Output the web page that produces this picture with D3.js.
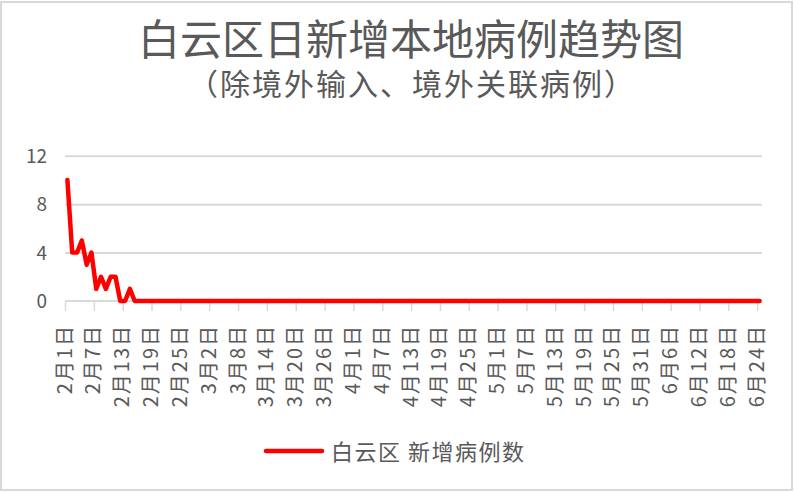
<!DOCTYPE html>
<html>
<head>
<meta charset="utf-8">
<script src="https://cdn.jsdelivr.net/npm/d3@7"></script>
<style>
  html, body { margin: 0; padding: 0; background: #fff; }
  svg { display: block; }
  text { font-family: "Noto Sans CJK SC", "Noto Sans", sans-serif; fill: #595959; }
</style>
</head>
<body>
<svg id="chart" width="794" height="492"></svg>
<script>
// ---- data ----
const title = "白云区日新增本地病例趋势图";
const subtitle = "（除境外输入、境外关联病例）";
const seriesName = "白云区 新增病例数";

// daily categories, 2020-02-01 .. 2020-06-24
const categories = d3.timeDay.range(new Date(2020, 1, 1), new Date(2020, 5, 25))
  .map(d => `${d.getMonth() + 1}月${d.getDate()}日`);

const tickLabels = [
  "2月1日", "2月7日", "2月13日", "2月19日", "2月25日",
  "3月2日", "3月8日", "3月14日", "3月20日", "3月26日",
  "4月1日", "4月7日", "4月13日", "4月19日", "4月25日",
  "5月1日", "5月7日", "5月13日", "5月19日", "5月25日",
  "5月31日", "6月6日", "6月12日", "6月18日", "6月24日"
];

const yTicks = [0, 4, 8, 12];

const values = [
  // Feb 1–15
  10, 4, 4, 5, 3, 4, 1, 2, 1, 2, 2, 0, 0, 1, 0,
  // Feb 16–29
  0, 0, 0, 0, 0, 0, 0, 0, 0, 0, 0, 0, 0, 0,
  // Mar 1–31
  0, 0, 0, 0, 0, 0, 0, 0, 0, 0, 0, 0, 0, 0, 0, 0, 0, 0, 0, 0, 0, 0, 0, 0, 0, 0, 0, 0, 0, 0, 0,
  // Apr 1–30
  0, 0, 0, 0, 0, 0, 0, 0, 0, 0, 0, 0, 0, 0, 0, 0, 0, 0, 0, 0, 0, 0, 0, 0, 0, 0, 0, 0, 0, 0,
  // May 1–31
  0, 0, 0, 0, 0, 0, 0, 0, 0, 0, 0, 0, 0, 0, 0, 0, 0, 0, 0, 0, 0, 0, 0, 0, 0, 0, 0, 0, 0, 0, 0,
  // Jun 1–24
  0, 0, 0, 0, 0, 0, 0, 0, 0, 0, 0, 0, 0, 0, 0, 0, 0, 0, 0, 0, 0, 0, 0, 0
];

// ---- layout ----
const W = 794, H = 492;
const plot = { left: 65, right: 762, top: 155.7, bottom: 301 };
const grid = "#d9d9d9";
const red = "#ff0000";

const svg = d3.select("#chart");

// outer border
svg.append("rect")
  .attr("x", 1).attr("y", 2).attr("width", W - 3).attr("height", H - 4)
  .attr("fill", "#fff").attr("stroke", grid).attr("stroke-width", 2);

// title
svg.append("text").attr("x", 411).attr("y", 55)
  .attr("text-anchor", "middle").style("font-size", "42px").text(title);
svg.append("text").attr("x", 412).attr("y", 94.5)
  .attr("text-anchor", "middle").style("font-size", "30px")
  .style("letter-spacing", "2px").text(subtitle);

// scales
const x = d3.scaleLinear().domain([0, categories.length]).range([plot.left, plot.right]);
const y = d3.scaleLinear().domain([0, 12]).range([plot.bottom, plot.top]);

// y axis with gridlines
const yAxis = svg.append("g")
  .attr("transform", `translate(${plot.left},0)`)
  .call(d3.axisLeft(y).tickValues(yTicks).tickSize(-(plot.right - plot.left)).tickPadding(18)
    .tickFormat(d3.format("d")));
yAxis.select(".domain").remove();
yAxis.selectAll(".tick line")
  .attr("stroke", grid).attr("stroke-width", 2)
  .attr("display", d => d === 0 ? "none" : null);
yAxis.selectAll(".tick text")
  .attr("fill", "#595959").style("font-size", "19px")
  .attr("dy", "0.36em").attr("x", -18);

// x axis
const tickIdx = tickLabels.map(l => categories.indexOf(l));
const xAxis = svg.append("g")
  .attr("transform", `translate(0,${plot.bottom})`)
  .call(d3.axisBottom(x).tickValues(tickIdx).tickSize(10).tickFormat(i => categories[i]));
xAxis.select(".domain")
  .attr("stroke", grid).attr("stroke-width", 2)
  .attr("d", `M${plot.left},0H${plot.right}`);
xAxis.selectAll(".tick line").attr("stroke", grid).attr("stroke-width", 1.5);
xAxis.selectAll(".tick text")
  .attr("fill", "#595959")
  .style("font-size", "20px")
  .style("letter-spacing", "2px")
  .attr("text-anchor", "end")
  .attr("x", 0).attr("y", 0).attr("dy", "0.3em")
  .attr("transform", "translate(0,23) rotate(-90)");

// line
const line = d3.line()
  .x((d, i) => x(i + 0.5))
  .y(d => y(d));
svg.append("path")
  .datum(values)
  .attr("fill", "none")
  .attr("stroke", red)
  .attr("stroke-width", 4.5)
  .attr("stroke-linejoin", "round")
  .attr("stroke-linecap", "round")
  .attr("d", line);

// legend
const lg = svg.append("g");
lg.append("line")
  .attr("x1", 266).attr("x2", 322).attr("y1", 451).attr("y2", 451)
  .attr("stroke", red).attr("stroke-width", 4.5).attr("stroke-linecap", "round");
lg.append("text").attr("x", 331).attr("y", 460)
  .style("font-size", "22px").style("letter-spacing", "1.5px").text(seriesName);
</script>
</body>
</html>
